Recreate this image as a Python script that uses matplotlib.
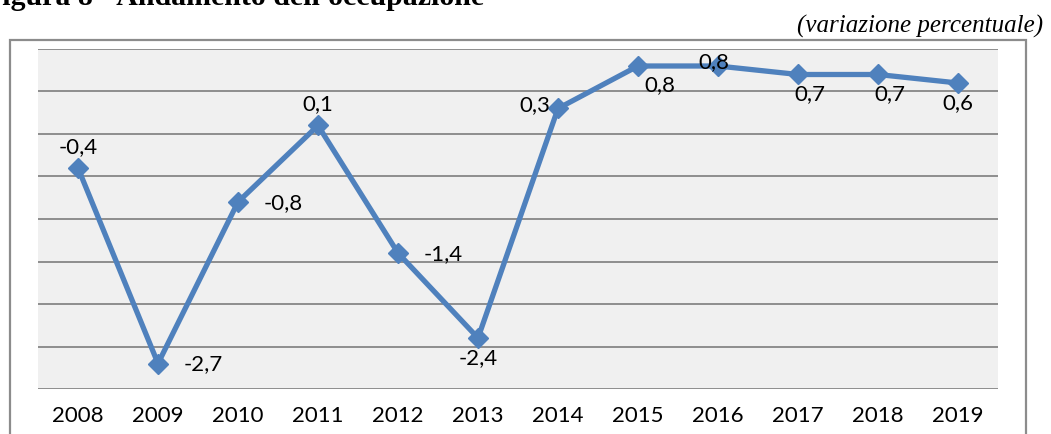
import matplotlib.pyplot as plt
from matplotlib.patches import Rectangle

years = ['2008', '2009', '2010', '2011', '2012', '2013',
         '2014', '2015', '2016', '2017', '2018', '2019']
values = [-0.4, -2.7, -0.8, 0.1, -1.4, -2.4, 0.3, 0.8, 0.8, 0.7, 0.7, 0.6]
# where each data label sits relative to its marker
label_pos = ['above', 'right', 'right', 'above', 'right', 'below',
             'left', 'below_right', 'on_top', 'below_r', 'below_r', 'below']

blue = '#4F81BD'
grid_col = '#868686'
label_font = ['Lato', 'DejaVu Sans']

W, H = 1051, 434
px = 0.72  # points per pixel at dpi 100
fig = plt.figure(figsize=(W / 100, H / 100), dpi=100)

# outer chart frame (runs off the bottom of the image)
fig.patches.append(Rectangle((10 / W, -0.05), 1016 / W, 1 - 40 / H + 0.05,
                             transform=fig.transFigure, fill=False,
                             edgecolor='#8c8c8c', linewidth=1.6))

ax = fig.add_axes([38 / W, 1 - 389 / H, 960 / W, 340 / H])
ax.set_facecolor('#F0F0F0')
x = list(range(len(years)))
ax.set_xlim(-0.5, len(years) - 0.5)
ax.set_ylim(-3, 1)
for g in [-3, -2.5, -2, -1.5, -1, -0.5, 0, 0.5, 1]:
    ax.axhline(g, color=grid_col, linewidth=1.3, zorder=1)
for s in ax.spines.values():
    s.set_visible(False)
ax.set_yticks([])
ax.set_xticks(x)
ax.set_xticklabels(years, fontsize=16, family=label_font)
ax.tick_params(axis='x', length=0, pad=12)

ax.plot(x, values, color=blue, linewidth=3.8, marker='D', markersize=10,
        zorder=3, clip_on=False)

# offsets in pixels: dx, dy, ha, va
offsets = {'above': (0, 21, 'center', 'center'),
           'on_top': (-4, 4, 'center', 'center'),
           'below': (0, -20, 'center', 'center'),
           'below_right': (22, -19, 'center', 'center'),
           'below_r': (12, -20, 'center', 'center'),
           'right': (26, -1, 'left', 'center'),
           'left': (-8, 3, 'right', 'center')}
for xi, v, p in zip(x, values, label_pos):
    dx, dy, ha, va = offsets[p]
    ax.annotate(f'{v:.1f}'.replace('.', ','), (xi, v),
                xytext=(dx * px, dy * px), textcoords='offset points',
                ha=ha, va=va, fontsize=16, family=label_font, zorder=4)

fig.text(-16 / W, 1 - 5 / H, "Figura 8 - Andamento dell'occupazione",
         family='Liberation Serif', fontweight='bold', fontsize=21.5,
         ha='left', va='baseline')
fig.text(1043 / W, 1 - 33 / H, '(variazione percentuale)',
         family='Liberation Serif', style='italic', fontsize=18,
         ha='right', va='baseline')

fig.savefig('out.png', dpi=100)
